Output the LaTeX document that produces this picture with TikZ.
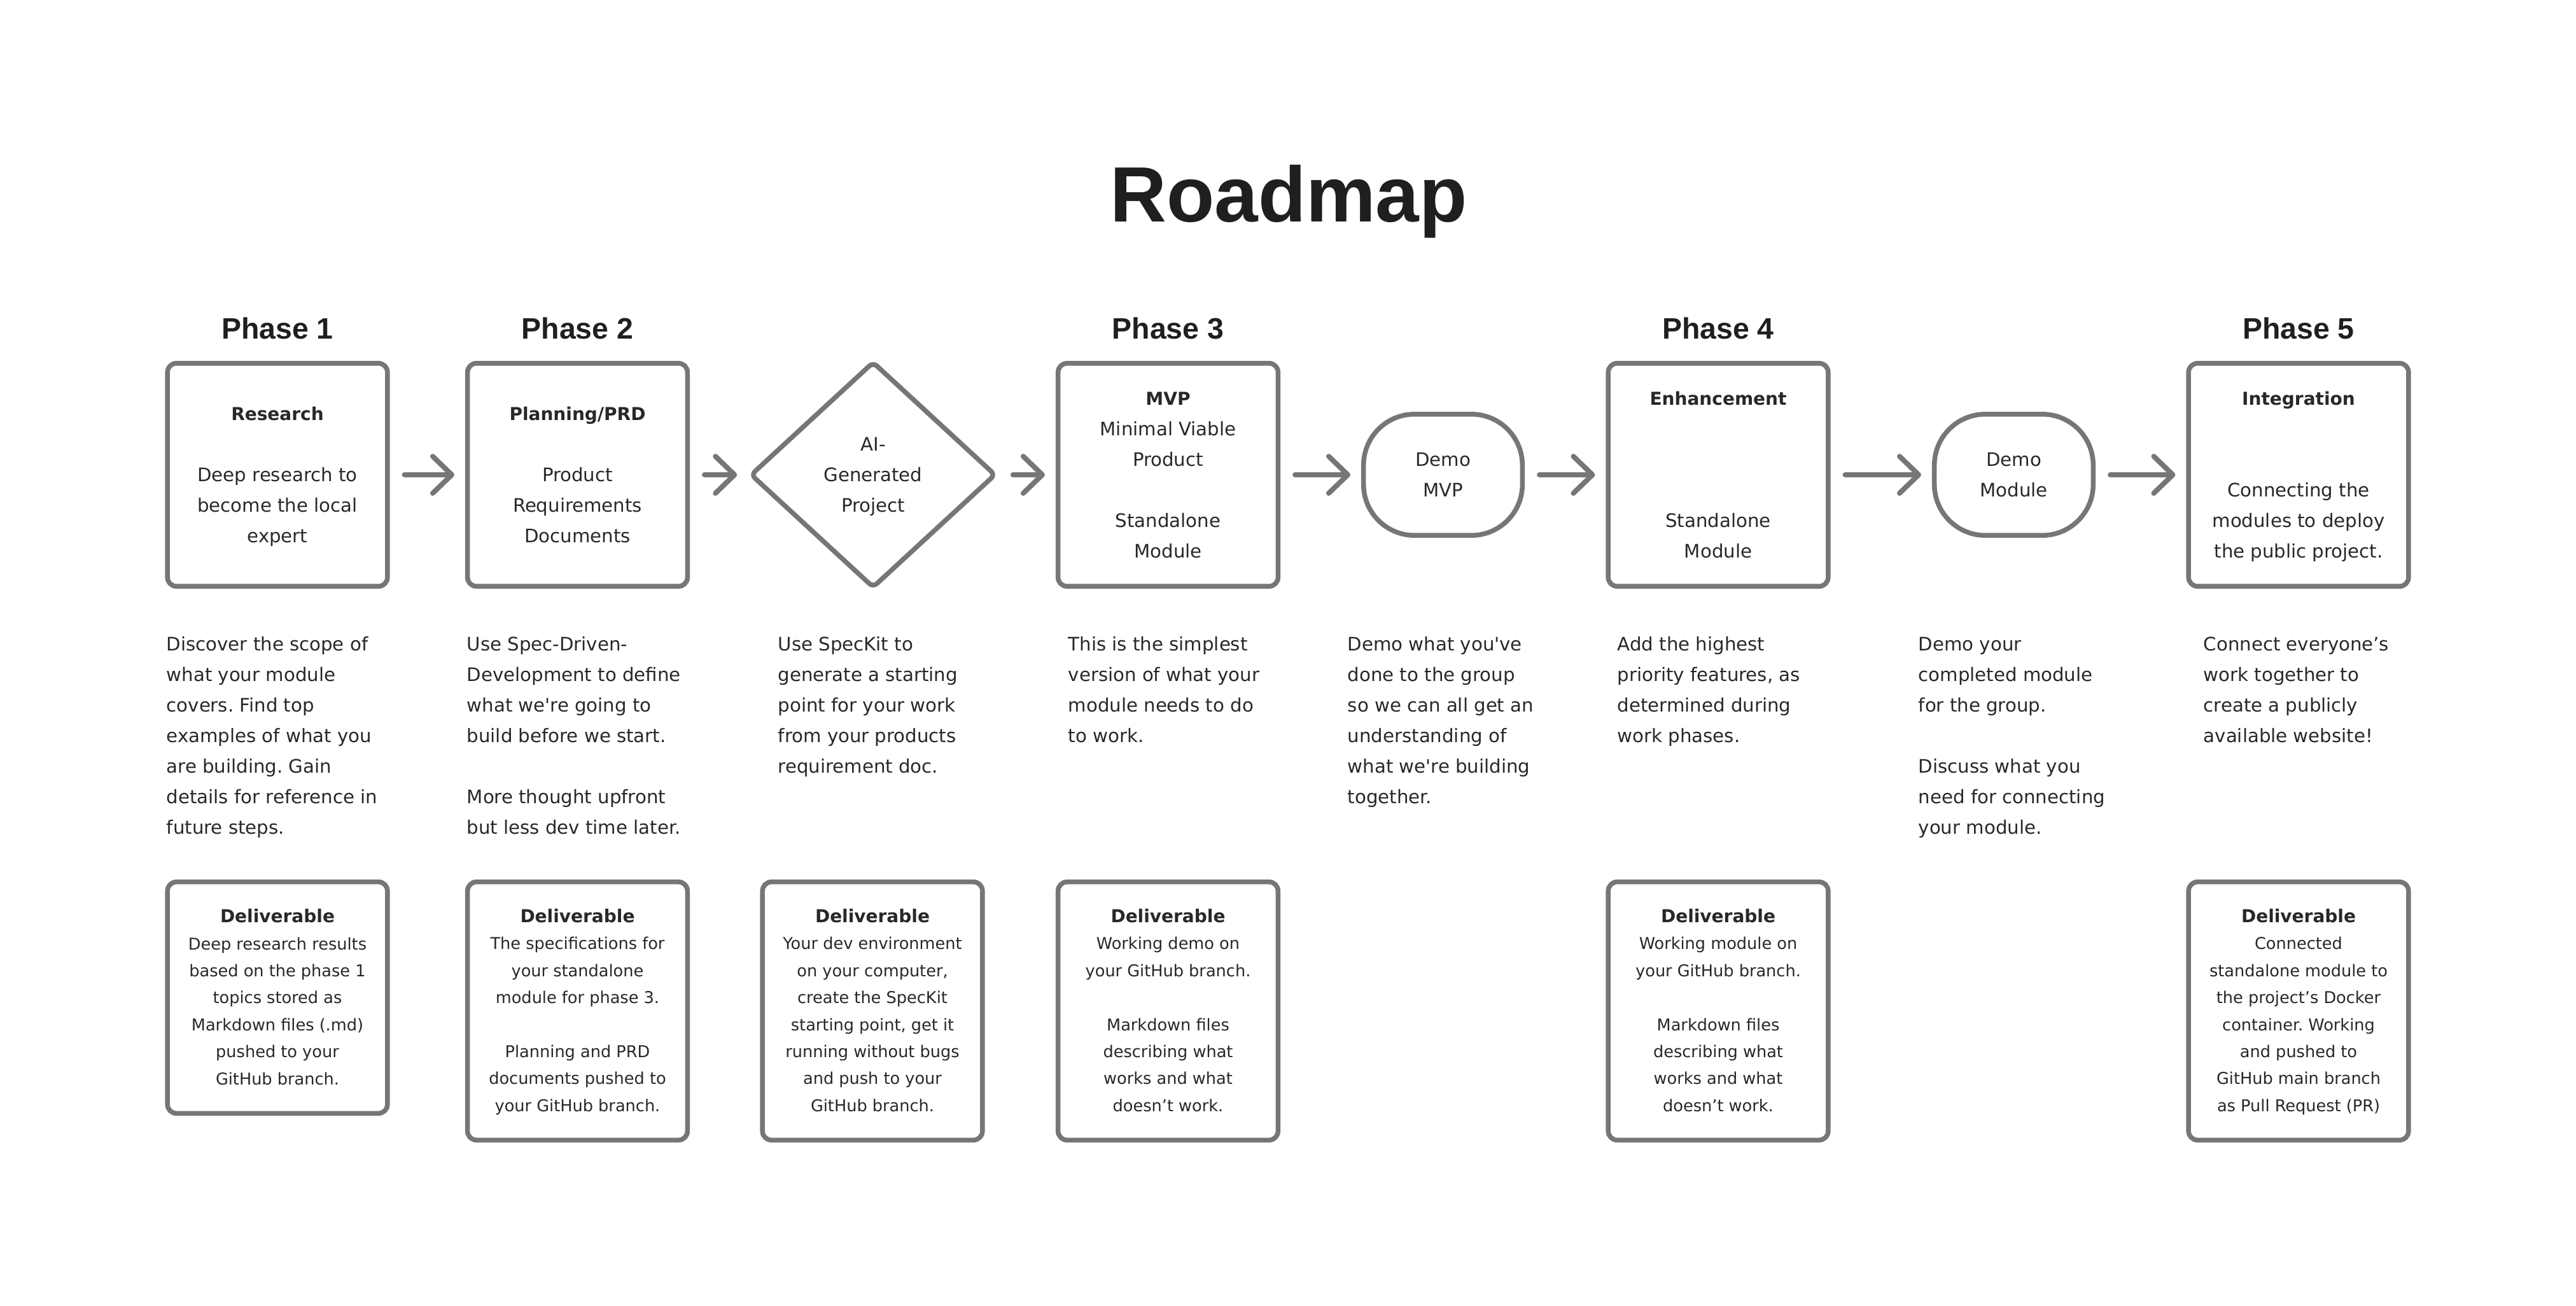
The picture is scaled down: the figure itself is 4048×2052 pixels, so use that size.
\documentclass[tikz,border=0pt]{standalone}
\usepackage{fontspec}
\newfontfamily\bodyfont{DejaVu Sans}
\newfontfamily\headfont{Liberation Sans}
\usetikzlibrary{shapes.geometric,arrows.meta}
\definecolor{stroke}{RGB}{118,118,118}
\definecolor{ink}{RGB}{40,40,40}
\definecolor{titleink}{RGB}{31,31,31}
\newcommand\TSa{\rule{0pt}{9pt}}
\newcommand\BSa{\rule[-3.7pt]{0pt}{3.7pt}}
\newcommand\TSb{\rule{0pt}{8pt}}
\newcommand\BSb{\rule[-3.35pt]{0pt}{3.35pt}}
\newcommand\hd[1]{{\fontsize{7pt}{12pt}\selectfont\bfseries #1}}
\tikzset{
  bodytext/.style={font=\bodyfont\fontsize{7.3pt}{12pt}\selectfont\frenchspacing},
  phasebox/.style={draw=stroke, line width=1.875pt, rounded corners=3.5pt, fill=white,
    minimum width=86.4pt, minimum height=87.6pt, inner sep=0pt, align=center, text=ink, bodytext},
  demobox/.style={phasebox, rounded corners=20pt, minimum width=62.4pt, minimum height=47.6pt},
  decision/.style={draw=stroke, line width=1.875pt, shape=diamond, rounded corners=2pt, fill=white,
    minimum width=96.5pt, minimum height=89pt, inner sep=0pt, align=center, text=ink, bodytext},
  delivbox/.style={draw=stroke, line width=1.875pt, rounded corners=3.5pt, fill=white,
    minimum width=86.4pt, minimum height=101.4pt, inner sep=0pt, align=center, text=ink,
    font=\bodyfont\fontsize{6.4pt}{10.6pt}\selectfont\frenchspacing},
  phasetitle/.style={font=\headfont\fontsize{11.6pt}{14pt}\selectfont\bfseries, text=titleink, anchor=base, inner sep=0pt},
  desc/.style={anchor=north west, inner sep=0pt, align=left, text=ink, bodytext},
  flow/.style={draw=stroke, line width=2pt, line cap=round,
    -{Straight Barb[length=7.5pt,width=14.5pt,round]}, shorten <=5.75pt, shorten >=4.25pt},
}
\begin{document}
\frenchspacing
\begin{tikzpicture}[x=0.25pt,y=-0.25pt]
\path[fill=white,use as bounding box] (0,0) rectangle (4048,2052);

% title
\node[font=\headfont\fontsize{30.8pt}{36pt}\selectfont\bfseries, text=titleink, anchor=base, inner sep=0pt] (title) at (2025,349) {Roadmap};

% phase titles
\node[phasetitle] (ph1) at (436,533) {Phase 1};
\node[phasetitle] (ph2) at (907.5,533) {Phase 2};
\node[phasetitle] (ph3) at (1835.5,533) {Phase 3};
\node[phasetitle] (ph4) at (2700,533) {Phase 4};
\node[phasetitle] (ph5) at (3612,533) {Phase 5};

% main flow
\node[phasebox] (p1) at (436,746) {\TSa\hd{Research}\\[12pt]Deep research to\\become the local\\expert\BSa};
\node[phasebox] (p2) at (907.5,746) {\TSa\hd{Planning/PRD}\\[12pt]Product\\Requirements\\Documents\BSa};
\node[decision] (dia) at (1372,746) {\TSa AI-\\Generated\\Project\BSa};
\node[phasebox] (p3) at (1835.5,746) {\TSa\hd{MVP}\\Minimal Viable\\Product\\[12pt]Standalone\\Module\BSa};
\node[demobox] (demo1) at (2267.5,746) {\TSa Demo\\MVP\BSa};
\node[phasebox] (p4) at (2700,746) {\TSa\hd{Enhancement}\\[36pt]Standalone\\Module\BSa};
\node[demobox] (demo2) at (3164.5,746) {\TSa Demo\\Module\BSa};
\node[phasebox] (p5) at (3612,746) {\TSa\hd{Integration}\\[24pt]Connecting the\\modules to deploy\\the public project.\BSa};

\draw[flow] (p1.east) -- (p2.west);
\draw[flow] (p2.east) -- (dia.west);
\draw[flow] (dia.east) -- (p3.west);
\draw[flow] (p3.east) -- (demo1.west);
\draw[flow] (demo1.east) -- (p4.west);
\draw[flow] (p4.east) -- (demo2.west);
\draw[flow] (demo2.east) -- (p5.west);

% descriptions
\node[desc] (t1) at (261,986) {\TSa Discover the scope of\\what your module\\covers. Find top\\examples of what you\\are building. Gain\\details for reference in\\future steps.};
\node[desc] (t2) at (733,986) {\TSa Use Spec-Driven-\\Development to define\\what we're going to\\build before we start.\\[12pt]More thought upfront\\but less dev time later.};
\node[desc] (t3) at (1222,986) {\TSa Use SpecKit to\\generate a starting\\point for your work\\from your products\\requirement doc.};
\node[desc] (t4) at (1678,986) {\TSa This is the simplest\\version of what your\\module needs to do\\to work.};
\node[desc] (t5) at (2117,986) {\TSa Demo what you've\\done to the group\\so we can all get an\\understanding of\\what we're building\\together.};
\node[desc] (t6) at (2541,986) {\TSa Add the highest\\priority features, as\\determined during\\work phases.};
\node[desc] (t7) at (3014,986) {\TSa Demo your\\completed module\\for the group.\\[12pt]Discuss what you\\need for connecting\\your module.};
\node[desc] (t8) at (3462,986) {\TSa Connect everyone’s\\work together to\\create a publicly\\available website!};

% deliverables
\node[delivbox, minimum height=90.9pt] (d1) at (436,1567.5) {\TSb\hd{Deliverable}\\Deep research results\\based on the phase 1\\topics stored as\\Markdown files (.md)\\pushed to your\\GitHub branch.\BSb};
\node[delivbox] (d2) at (907.5,1588.5) {\TSb\hd{Deliverable}\\The specifications for\\your standalone\\module for phase 3.\\[10.6pt]Planning and PRD\\documents pushed to\\your GitHub branch.\BSb};
\node[delivbox] (d3) at (1371,1588.5) {\TSb\hd{Deliverable}\\Your dev environment\\on your computer,\\create the SpecKit\\starting point, get it\\running without bugs\\and push to your\\GitHub branch.\BSb};
\node[delivbox] (d4) at (1835.5,1588.5) {\TSb\hd{Deliverable}\\Working demo on\\your GitHub branch.\\[10.6pt]Markdown files\\describing what\\works and what\\doesn’t work.\BSb};
\node[delivbox] (d5) at (2700,1588.5) {\TSb\hd{Deliverable}\\Working module on\\your GitHub branch.\\[10.6pt]Markdown files\\describing what\\works and what\\doesn’t work.\BSb};
\node[delivbox] (d6) at (3612,1588.5) {\TSb\hd{Deliverable}\\Connected\\standalone module to\\the project’s Docker\\container. Working\\and pushed to\\GitHub main branch\\as Pull Request (PR)\BSb};
\end{tikzpicture}
\end{document}
